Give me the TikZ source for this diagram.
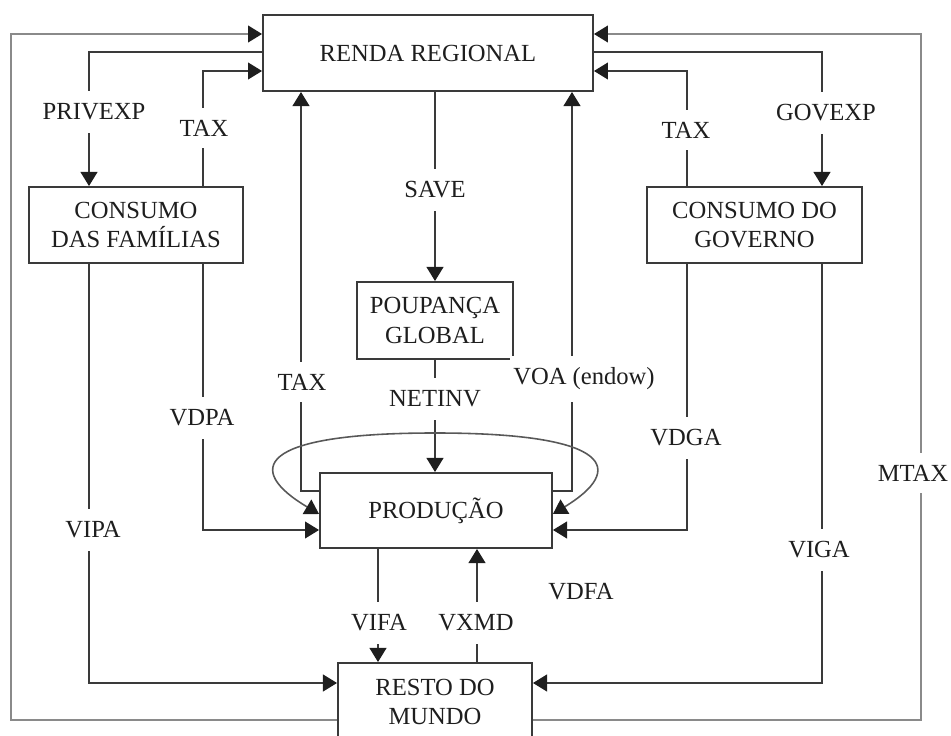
\documentclass[tikz,border=0pt]{standalone}
\usepackage{fontspec}
\setmainfont{Liberation Serif}
\usetikzlibrary{arrows.meta}
\definecolor{linec}{HTML}{3A3A3A}
\definecolor{outerc}{HTML}{8A8A8A}
\definecolor{headc}{HTML}{1E1E1E}
\definecolor{textc}{HTML}{1E1E1E}
\begin{document}
\begin{tikzpicture}[x=0.02cm,y=-0.02cm,
  txt/.style={font=\fontsize{14}{17}\selectfont, text=textc},
  block/.style={txt, draw=linec, line width=1.1pt, align=center, inner sep=0pt},
  flow/.style={draw=linec, line width=1.1pt, -{Triangle[length=8pt,width=9.5pt,color=headc]}},
  outerflow/.style={draw=outerc, line width=1.2pt, -{Triangle[length=8pt,width=9.5pt,color=headc]}},
  loopflow/.style={draw=linec!85, line width=0.9pt,
    {Triangle[length=8pt,width=9.5pt,color=headc]}-{Triangle[length=8pt,width=9.5pt,color=headc]}},
  lbl/.style={txt, fill=white, inner xsep=2pt, inner ysep=7pt}
]
\useasboundingbox (0,0) rectangle (951,736);

% blocks
\node[block, minimum width=6.6cm,  minimum height=1.52cm] (renda) at (428,53)    {RENDA REGIONAL};
\node[block, minimum width=4.28cm, minimum height=1.52cm] (fam)   at (136,225)   {CONSUMO\\DAS FAMÍLIAS};
\node[block, minimum width=4.3cm,  minimum height=1.52cm] (gov)   at (754.5,225) {CONSUMO DO\\GOVERNO};
\node[block, minimum width=3.12cm, minimum height=1.54cm] (poup)  at (435,320.5) {POUPANÇA\\GLOBAL};
\node[block, minimum width=4.64cm, minimum height=1.5cm]  (prod)  at (436,510.5) {PRODUÇÃO};
\node[block, minimum width=3.88cm, minimum height=1.56cm] (resto) at (435,702)   {RESTO DO\\MUNDO};

% corner points of the routed connectors
\coordinate (oBL) at (11,720);
\coordinate (oTL) at (11,34);
\coordinate (oBR) at (921,720);
\coordinate (oTR) at (921,34);
\coordinate (pA) at (89,52);
\coordinate (tA) at (203,71);
\coordinate (gA) at (822,52);
\coordinate (tB) at (687,71);
\coordinate (mL) at (301,491);
\coordinate (mR) at (572,491);
\coordinate (dL) at (203,530);
\coordinate (dR) at (687,530);
\coordinate (vL) at (89,683);
\coordinate (vR) at (822,683);
\coordinate (fx) at (378,600);
\coordinate (xx) at (477,600);
\coordinate (sx) at (435,200);
\coordinate (ya) at (0,514);
\coordinate (aTop) at (435,433);

% outer loop back to regional income
\draw[outerflow] (oBL -| resto.west) -- (oBL) -- (oTL) -- (oTL -| renda.west);
\draw[outerflow] (oBR -| resto.east) -- (oBR) -- (oTR) -- (oTR -| renda.east);

% private and government expenditure, taxes
\draw[flow] (pA -| renda.west) -- (pA) -- (pA |- fam.north);
\draw[flow] (tA |- fam.north) -- (tA) -- (tA -| renda.west);
\draw[flow] (gA -| renda.east) -- (gA) -- (gA |- gov.north);
\draw[flow] (tB |- gov.north) -- (tB) -- (tB -| renda.east);

% saving and investment
\draw[flow] (sx |- renda.south) -- (sx |- poup.north);
\draw[flow] (sx |- poup.south) -- (sx |- prod.north);

% production back to regional income
\draw[flow] (mL -| prod.west) -- (mL) -- (mL |- renda.south);
\draw[flow] (mR -| prod.east) -- (mR) -- (mR |- renda.south);

% intermediate loop over production
\draw[loopflow] (ya -| prod.west) .. controls (245,470) and (255,433) .. (aTop)
                .. controls (615,433) and (625,470) .. (ya -| prod.east);

% domestic demand into production
\draw[flow] (dL |- fam.south) -- (dL) -- (dL -| prod.west);
\draw[flow] (dR |- gov.south) -- (dR) -- (dR -| prod.east);

% imports
\draw[flow] (vL |- fam.south) -- (vL) -- (vL -| resto.west);
\draw[flow] (vR |- gov.south) -- (vR) -- (vR -| resto.east);
\draw[flow] (fx |- prod.south) -- (fx |- resto.north);
\draw[flow] (xx |- resto.north) -- (xx |- prod.south);

% flow labels
\node[lbl] (lPRIV) at (94,112)  {PRIVEXP};
\node[lbl] (lTAX1) at (204,128) {TAX};
\node[lbl] (lSAVE) at (435,190) {SAVE};
\node[lbl] (lTAX2) at (686,130) {TAX};
\node[lbl] (lGOV)  at (826,113) {GOVEXP};
\node[lbl] (lTAX3) at (302,382) {TAX};
\node[lbl] (lVOA)  at (584,379) {VOA (endow)};
\node[lbl] (lNET)  at (435,399) {NETINV};
\node[lbl] (lVDPA) at (202,418) {VDPA};
\node[lbl] (lVDGA) at (686,438) {VDGA};
\node[lbl] (lMTAX) at (913,473) {MTAX};
\node[lbl] (lVIPA) at (93,530)  {VIPA};
\node[lbl] (lVIGA) at (819,550) {VIGA};
\node[txt] (lVDFA) at (581,592) {VDFA};
\node[lbl] (lVIFA) at (379,623) {VIFA};
\node[lbl] (lVXMD) at (476,623) {VXMD};
\end{tikzpicture}
\end{document}
